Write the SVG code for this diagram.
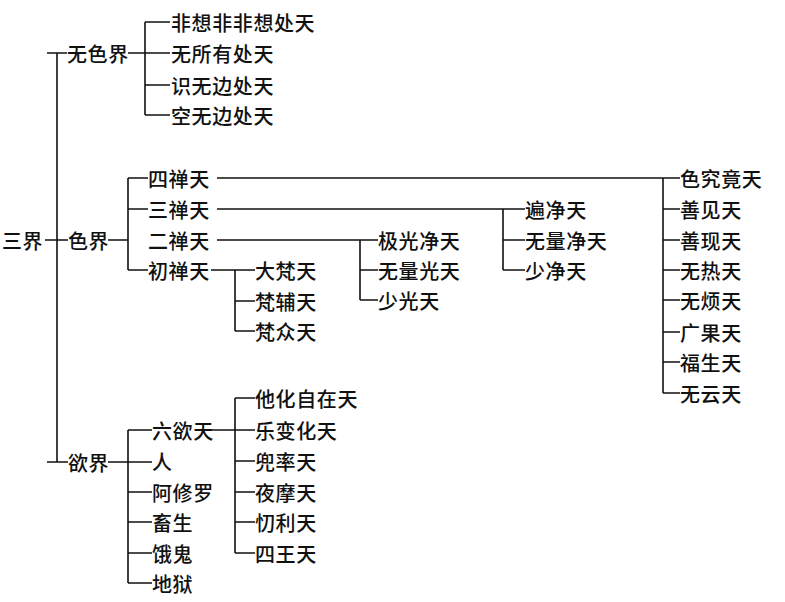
<svg xmlns="http://www.w3.org/2000/svg" width="785" height="602" viewBox="0 0 785 602">
<style>
text{font-family:"Noto Sans CJK SC","Noto Sans",sans-serif;font-size:20px;font-weight:500;fill:#111;dominant-baseline:central;letter-spacing:0.6px}
.c{fill:none;stroke:#111;stroke-width:1.6}
</style>
<rect width="785" height="602" fill="#fff"/>
<g id="connectors" class="c">
<path d="M57 53V462M47 53H67M45 240H68M47 462H68"/>
<path d="M128 53H170M145 22V115M145 22H170M145 85H170M145 115H170"/>
<path d="M108 240H128M128 178V270M128 178H148M128 209H148M128 270H148"/>
<path d="M211 270H255M235 270V331M235 301H255M235 331H255"/>
<path d="M217 240H378M360 240V300M360 270H378M360 300H378"/>
<path d="M217 209H525M503 209V270M503 240H525M503 270H525"/>
<path d="M217 178H680M663 178V393M663 209H680M663 240H680M663 270H680M663 300H680M663 332H680M663 362H680M663 393H680"/>
<path d="M108 462H152M128 430V583M128 430H152M128 492H152M128 522H152M128 553H152M128 583H152"/>
<path d="M212 430H255M235 398V553M235 398H255M235 461H255M235 492H255M235 522H255M235 553H255"/>
</g>
<g id="sanjie"><text x="2" y="240">三界</text></g>
<g id="wuse"><text x="67" y="53">无色界</text></g>
<g id="wuse-1"><text x="171" y="22">非想非非想处天</text></g>
<g id="wuse-2"><text x="171" y="53">无所有处天</text></g>
<g id="wuse-3"><text x="171" y="85">识无边处天</text></g>
<g id="wuse-4"><text x="171" y="115">空无边处天</text></g>
<g id="se"><text x="68" y="240">色界</text></g>
<g id="si"><text x="148" y="178">四禅天</text></g>
<g id="san"><text x="148" y="209">三禅天</text></g>
<g id="er"><text x="148" y="240">二禅天</text></g>
<g id="chu"><text x="148" y="270">初禅天</text></g>
<g id="chu-1"><text x="255" y="270">大梵天</text></g>
<g id="chu-2"><text x="255" y="301">梵辅天</text></g>
<g id="chu-3"><text x="255" y="331">梵众天</text></g>
<g id="er-1"><text x="378" y="240">极光净天</text></g>
<g id="er-2"><text x="378" y="270">无量光天</text></g>
<g id="er-3"><text x="378" y="300">少光天</text></g>
<g id="san-1"><text x="525" y="209">遍净天</text></g>
<g id="san-2"><text x="525" y="240">无量净天</text></g>
<g id="san-3"><text x="525" y="270">少净天</text></g>
<g id="si-1"><text x="680" y="178">色究竟天</text></g>
<g id="si-2"><text x="680" y="209">善见天</text></g>
<g id="si-3"><text x="680" y="240">善现天</text></g>
<g id="si-4"><text x="680" y="270">无热天</text></g>
<g id="si-5"><text x="680" y="300">无烦天</text></g>
<g id="si-6"><text x="680" y="332">广果天</text></g>
<g id="si-7"><text x="680" y="362">福生天</text></g>
<g id="si-8"><text x="680" y="393">无云天</text></g>
<g id="yu"><text x="68" y="462">欲界</text></g>
<g id="liuyu"><text x="152" y="430">六欲天</text></g>
<g id="ren"><text x="152" y="461">人</text></g>
<g id="axiuluo"><text x="152" y="492">阿修罗</text></g>
<g id="chusheng"><text x="152" y="522">畜生</text></g>
<g id="egui"><text x="152" y="553">饿鬼</text></g>
<g id="diyu"><text x="152" y="583">地狱</text></g>
<g id="liuyu-1"><text x="255" y="398">他化自在天</text></g>
<g id="liuyu-2"><text x="255" y="430">乐变化天</text></g>
<g id="liuyu-3"><text x="255" y="461">兜率天</text></g>
<g id="liuyu-4"><text x="255" y="492">夜摩天</text></g>
<g id="liuyu-5"><text x="255" y="522">忉利天</text></g>
<g id="liuyu-6"><text x="255" y="553">四王天</text></g>
</svg>
